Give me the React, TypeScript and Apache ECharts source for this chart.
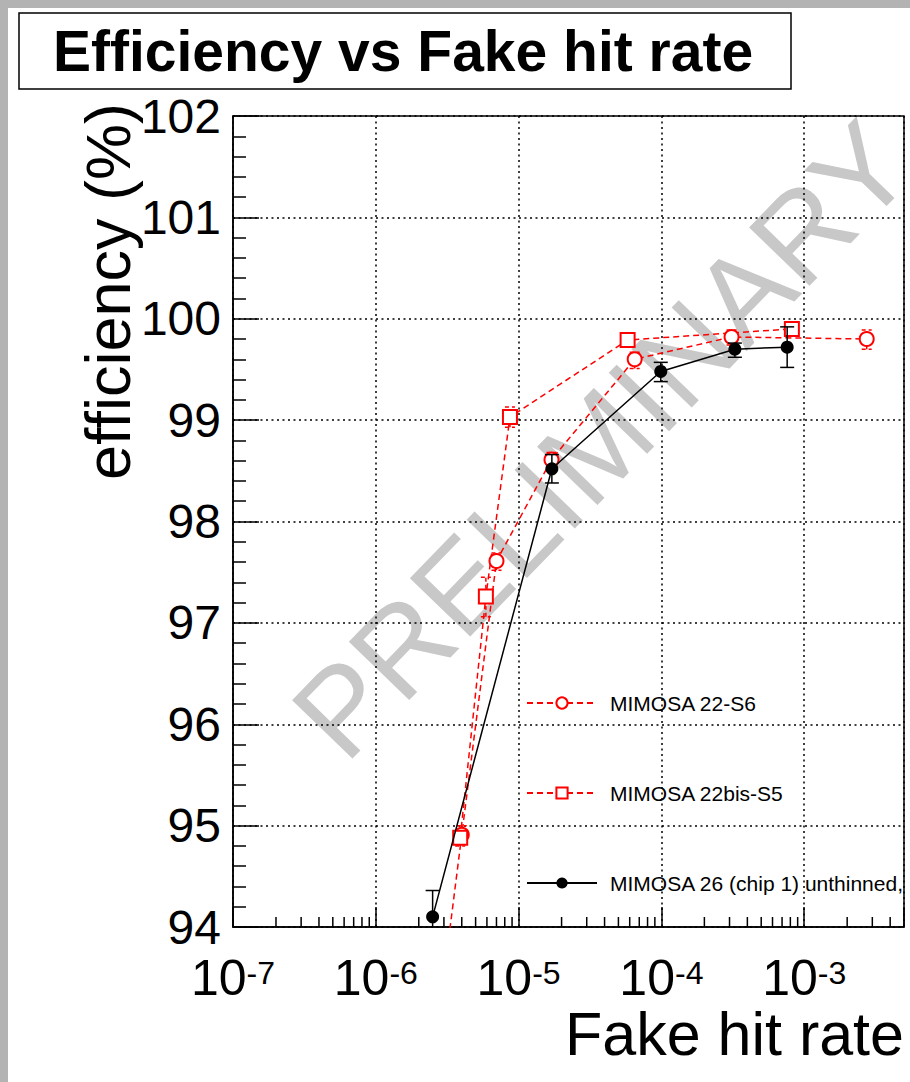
import React, { useEffect, useRef } from "react";
import * as echarts from "echarts";

const FONT = "'Liberation Sans', Arial, Helvetica, sans-serif";

const xMin = 1e-7;
const xMax = 5e-3;
const yMin = 94;
const yMax = 102;

const titleText = "Efficiency vs Fake hit rate";
const xTitle = "Fake hit rate";
const yTitle = "efficiency (%)";
const watermark = "PRELIMINARY";

const nameS6 = "MIMOSA 22-S6";
const nameS5 = "MIMOSA 22bis-S5";
const name26 = "MIMOSA 26 (chip 1) unthinned,";

// MIMOSA 22-S6 (red open circles)
const s6X = [2.7e-6, 4.0e-6, 7.0e-6, 1.7e-5, 6.5e-5, 3.1e-4, 2.74e-3];
const s6Y = [93.0, 94.91, 97.61, 98.61, 99.6, 99.82, 99.8];
const s6Lo = [92.9, 94.82, 97.52, 98.54, 99.51, 99.74, 99.7];
const s6Hi = [93.1, 95.0, 97.69, 98.68, 99.67, 99.89, 99.89];

// MIMOSA 22bis-S5 (red open squares)
const s5X = [3.9e-6, 5.9e-6, 8.7e-6, 5.8e-5, 8.2e-4];
const s5Y = [94.88, 97.26, 99.03, 99.79, 99.9];
const s5Lo = [94.8, 97.06, 98.93, 99.75, 99.86];
const s5Hi = [94.96, 97.45, 99.13, 99.83, 99.94];

// MIMOSA 26 (black filled circles)
const m26X = [2.5e-6, 1.71e-5, 9.9e-5, 3.27e-4, 7.6e-4];
const m26Y = [94.1, 98.52, 99.48, 99.7, 99.72];
const m26Lo = [93.84, 98.38, 99.38, 99.62, 99.52];
const m26Hi = [94.36, 98.66, 99.57, 99.76, 99.92];

const decades = [-7, -6, -5, -4, -3];
const minorMults = [2, 3, 4, 5, 6, 7, 8, 9];

const minorTicksX: number[] = [];
decades.forEach((d) => {
  minorMults.forEach((m) => {
    const v = m * Math.pow(10, d);
    if (v < xMax * 0.999) minorTicksX.push(v);
  });
});

const zip = (xs: number[], ys: number[]) => xs.map((x, i) => [x, ys[i]]);
const zipErr = (xs: number[], lo: number[], hi: number[]) =>
  xs.map((x, i) => [x, lo[i], hi[i]]);

function errRender(capHalf: number, color: string, dash: number[] | null) {
  return (params: any, api: any) => {
    const x = api.value(0);
    const lo = api.value(1);
    const hi = api.value(2);
    const p1 = api.coord([x, lo]);
    const p2 = api.coord([x, hi]);
    const style: any = { stroke: color, lineWidth: 1.5, fill: "none" };
    if (dash) style.lineDash = dash;
    return {
      type: "group",
      children: [
        { type: "line", shape: { x1: p1[0], y1: p1[1], x2: p2[0], y2: p2[1] }, style },
        { type: "line", shape: { x1: p1[0] - capHalf, y1: p1[1], x2: p1[0] + capHalf, y2: p1[1] }, style },
        { type: "line", shape: { x1: p2[0] - capHalf, y1: p2[1], x2: p2[0] + capHalf, y2: p2[1] }, style },
      ],
    };
  };
}

function minorTickRender(params: any, api: any) {
  const p = api.coord([api.value(0), yMin]);
  return {
    type: "line",
    shape: { x1: p[0], y1: p[1], x2: p[0], y2: p[1] - 10 },
    style: { stroke: "#000", lineWidth: 1.5 },
  };
}

function xLabel(v: number) {
  const l = Math.log10(v);
  const r = Math.round(l);
  if (Math.abs(l - r) > 1e-6) return "";
  return "{b|10}{s|" + r + "}";
}

export default function App() {
  const ref = useRef<HTMLDivElement>(null);
  useEffect(() => {
    if (!ref.current) return;
    const chart = echarts.init(ref.current, null, { renderer: "svg" });
    const option: any = {
      animation: false,
      backgroundColor: "#fff",
      grid: {
        left: 225,
        top: 108,
        right: 6,
        bottom: 155,
        show: true,
        borderColor: "#000",
        borderWidth: 1.5,
        backgroundColor: "transparent",
        containLabel: false,
      },
      xAxis: {
        type: "log",
        logBase: 10,
        min: xMin,
        max: xMax,
        axisLine: { show: true, lineStyle: { color: "#000", width: 1.5 } },
        axisTick: { show: true, inside: true, length: 20, lineStyle: { color: "#000", width: 1.5 } },
        splitLine: { show: true, lineStyle: { color: "#000", width: 1.5, type: [2, 3.5] } },
        axisLabel: {
          margin: 30,
          formatter: xLabel,
          color: "#000",
          fontFamily: FONT,
          rich: {
            b: { fontSize: 50, lineHeight: 42, fontFamily: FONT, color: "#000", verticalAlign: "middle" },
            s: { fontSize: 32, lineHeight: 14, fontFamily: FONT, color: "#000", verticalAlign: "top" },
          },
        },
      },
      yAxis: {
        type: "value",
        min: yMin,
        max: yMax,
        interval: 1,
        axisLine: { show: true, lineStyle: { color: "#000", width: 1.5 } },
        axisTick: { show: true, inside: true, length: 26, lineStyle: { color: "#000", width: 1.5 } },
        minorTick: { show: true, splitNumber: 5, length: 13, lineStyle: { color: "#000", width: 1.5 } },
        splitLine: { show: true, lineStyle: { color: "#000", width: 1.5, type: [2, 3.5] } },
        axisLabel: { fontSize: 48, margin: 12, color: "#000", fontFamily: FONT },
      },
      legend: {
        data: [nameS6, nameS5, name26],
        orient: "vertical",
        left: 513,
        top: 678,
        itemWidth: 70,
        itemHeight: 14,
        itemGap: 66,
        selectedMode: false,
        textStyle: { fontSize: 21, color: "#000", fontFamily: FONT, lineHeight: 24, padding: [0, 0, 0, 8] },
      },
      graphic: [
        {
          type: "text",
          x: 594,
          y: 432,
          rotation: (46 * Math.PI) / 180,
          z: -10,
          silent: true,
          style: {
            text: watermark,
            fontSize: 122,
            fontFamily: FONT,
            fill: "#c8c8c8",
            align: "center",
            verticalAlign: "middle",
          },
        },
        {
          type: "rect",
          shape: { x: 11, y: 5, width: 772, height: 76 },
          style: { fill: "#fff", stroke: "#000", lineWidth: 1.5 },
        },
        {
          type: "text",
          x: 45,
          y: 43,
          style: {
            text: titleText,
            fontSize: 57,
            fontWeight: "bold",
            fontFamily: FONT,
            fill: "#000",
            align: "left",
            verticalAlign: "middle",
          },
        },
        {
          type: "text",
          x: 896,
          y: 1026,
          style: {
            text: xTitle,
            fontSize: 61,
            fontFamily: FONT,
            fill: "#000",
            align: "right",
            verticalAlign: "middle",
          },
        },
        {
          type: "text",
          x: 100,
          y: 95,
          rotation: Math.PI / 2,
          style: {
            text: yTitle,
            fontSize: 63,
            fontFamily: FONT,
            fill: "#000",
            align: "right",
            verticalAlign: "middle",
          },
        },
      ],
      series: [
        {
          type: "custom",
          name: "minorTicks",
          silent: true,
          renderItem: minorTickRender,
          data: minorTicksX.map((v) => [v, yMin]),
          z: 3,
        },
        {
          type: "custom",
          name: nameS6 + " err",
          silent: true,
          clip: true,
          renderItem: errRender(5, "#ff0000", [4, 3]),
          encode: { x: 0, y: [1, 2] },
          data: zipErr(s6X, s6Lo, s6Hi),
          z: 2,
        },
        {
          type: "custom",
          name: nameS5 + " err",
          silent: true,
          clip: true,
          renderItem: errRender(5, "#ff0000", [4, 3]),
          encode: { x: 0, y: [1, 2] },
          data: zipErr(s5X, s5Lo, s5Hi),
          z: 2,
        },
        {
          type: "custom",
          name: name26 + " err",
          silent: true,
          clip: true,
          renderItem: errRender(7, "#000", null),
          encode: { x: 0, y: [1, 2] },
          data: zipErr(m26X, m26Lo, m26Hi),
          z: 4,
        },
        {
          type: "line",
          name: nameS6,
          data: zip(s6X, s6Y),
          symbol: "emptyCircle",
          symbolSize: 14,
          clip: true,
          color: "#ff0000",
          itemStyle: { color: "#ff0000", borderWidth: 1.5 },
          lineStyle: { color: "#ff0000", width: 1.5, type: [6, 4] },
          z: 3,
        },
        {
          type: "line",
          name: nameS5,
          data: zip(s5X, s5Y),
          symbol: "emptyRect",
          symbolSize: 14,
          clip: true,
          color: "#ff0000",
          itemStyle: { color: "#ff0000", borderWidth: 1.5 },
          lineStyle: { color: "#ff0000", width: 1.5, type: [6, 4] },
          z: 3,
        },
        {
          type: "line",
          name: name26,
          data: zip(m26X, m26Y),
          symbol: "circle",
          symbolSize: 13,
          clip: true,
          color: "#000",
          itemStyle: { color: "#000" },
          lineStyle: { color: "#000", width: 1.5, type: "solid" },
          z: 5,
        },
      ],
    };
    chart.setOption(option);
    return () => chart.dispose();
  }, []);
  return (
    <div
      style={{
        position: "fixed",
        left: 0,
        top: 0,
        width: 910,
        height: 1082,
        background: "#b3b3b3",
        overflow: "hidden",
      }}
    >
      <div
        ref={ref}
        style={{ position: "absolute", left: 8, top: 8, width: 902, height: 1074, background: "#fff" }}
      />
    </div>
  );
}
